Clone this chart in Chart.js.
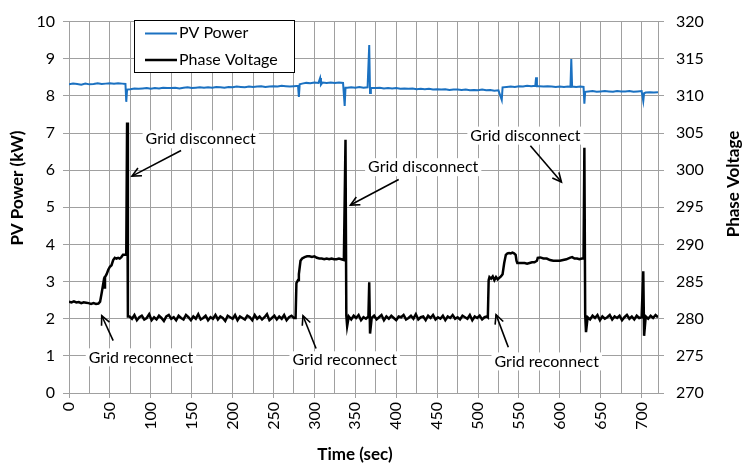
<!DOCTYPE html>
<html>
<head>
<meta charset="utf-8">
<script src="https://cdn.jsdelivr.net/npm/chart.js@4.4.1/dist/chart.umd.min.js"></script>
<style>
  body { margin: 0; background: #fff; }
  #grafico { display: block; }
</style>
</head>
<body>
<canvas id="grafico" width="742" height="468"></canvas>
<script>
// PV Power (kW, eixo esquerdo)
var pvTime = [
  0,5,10,15,20,25,30,35,40,45,50,55,60,65,69,
  70,71,
  75,80,85,90,95,100,105,110,115,120,
  125,130,135,140,145,150,155,160,165,170,
  175,180,185,190,195,200,205,210,215,220,
  225,230,235,240,245,250,255,260,265,270,
  275,280,
  281,282,
  285,290,295,300,305,307,308,310,315,320,325,330,335,
  337,338,
  340,345,350,355,360,365,
  367,368,369,
  375,380,385,390,395,400,405,410,415,420,
  425,430,435,440,445,450,455,460,465,470,
  475,480,485,490,495,500,505,510,515,520,
  525,
  529,530,
  535,540,545,550,555,560,565,570,571,572,575,580,585,590,595,600,605,610,613,614,615,620,625,629,
  630,631,
  635,640,645,650,655,660,665,670,675,680,685,690,695,700,
  702,703,
  705,710,715,720
];
var pvPower = [
  8.31,8.33,8.32,8.30,8.33,8.31,8.32,8.34,8.32,8.33,8.34,8.33,8.34,8.33,8.32,
  7.84,8.17,
  8.18,8.20,8.19,8.20,8.21,8.19,8.21,8.20,8.22,8.21,
  8.21,8.22,8.20,8.22,8.23,8.21,8.22,8.23,8.22,8.23,
  8.22,8.24,8.23,8.22,8.24,8.23,8.25,8.24,8.23,8.25,
  8.24,8.25,8.26,8.24,8.25,8.26,8.25,8.27,8.26,8.25,
  8.26,8.27,
  7.97,8.31,
  8.33,8.35,8.34,8.36,8.35,8.48,8.30,8.36,8.35,8.36,8.35,8.36,8.35,
  7.73,8.22,
  8.22,8.23,8.22,8.24,8.22,8.23,
  9.37,8.08,8.22,
  8.21,8.22,8.20,8.21,8.20,8.21,8.19,8.20,8.19,8.20,
  8.18,8.19,8.18,8.19,8.17,8.18,8.17,8.18,8.16,8.17,
  8.17,8.16,8.17,8.15,8.16,8.15,8.17,8.15,8.16,8.14,
  8.15,
  7.89,8.23,
  8.24,8.25,8.24,8.26,8.25,8.27,8.26,8.27,8.50,8.26,8.26,8.25,8.26,8.25,8.24,8.25,8.24,8.25,8.24,8.99,8.25,8.24,8.25,8.24,
  7.79,8.11,
  8.12,8.13,8.11,8.12,8.13,8.12,8.11,8.13,8.12,8.12,8.13,8.11,8.12,8.13,
  7.86,8.07,
  8.09,8.10,8.09,8.10
];

// Phase Voltage (V, eixo direito)
var voltageTime = [
  0,3,6,9,12,15,18,21,24,27,30,33,36,
  38,40,42,43,44,46,48,50,52,54,56,58,60,62,64,66,68,70,
  71,72,
  74,77,80,83,86,89,92,95,98,101,
  104,107,110,113,116,119,122,125,128,131,
  134,137,140,143,146,149,152,155,158,161,
  164,167,170,173,176,179,182,185,188,191,
  194,197,200,203,206,209,212,215,218,221,
  224,227,230,233,236,239,242,245,248,251,
  254,257,260,263,266,269,272,275,
  277,278,280,281,283,285,288,291,294,297,300,303,306,309,312,315,318,321,324,327,330,333,336,
  338,339,340,
  342,345,348,351,354,357,360,363,366,
  367,368,
  370,373,376,379,382,385,388,391,394,397,
  400,403,406,409,412,415,418,421,424,427,
  430,433,436,439,442,445,448,451,454,457,
  460,463,466,469,472,475,478,481,484,487,
  490,493,496,499,502,505,508,511,
  512,513,514,516,518,520,522,524,526,528,530,532,534,536,538,540,542,544,546,547,548,551,554,557,560,563,566,569,572,573,576,580,584,588,592,596,600,604,608,612,615,618,621,624,627,629,
  630,631,632,
  634,637,640,643,646,649,652,655,658,661,
  664,667,670,673,676,679,682,685,688,691,
  694,697,700,
  702,703,
  705,708,711,714,717,720
];
var phaseVoltage = [
  282.3,282.2,282.35,282.2,282.25,282.1,282.2,282.15,282.1,282.0,282.1,282.0,282.05,
  282.3,283.5,284.8,284.2,285.6,286.0,286.6,287.0,287.2,287.9,288.2,288.1,288.2,288.1,288.3,288.6,288.6,288.6,
  306.4,280.3,
  280.3,280.0,280.5,279.8,280.2,280.4,279.9,280.1,280.6,279.8,
  280.2,279.9,280.4,280.1,279.7,280.3,280.5,280.0,280.2,279.8,
  280.4,280.1,279.9,280.5,280.2,279.8,280.3,280.0,280.6,279.9,
  280.1,280.4,279.8,280.2,280.0,280.5,279.9,280.3,280.1,279.7,
  280.4,280.2,280.0,280.5,279.8,280.3,280.1,279.9,280.4,280.2,
  279.8,280.5,280.0,280.3,279.9,280.2,280.6,279.8,280.1,280.4,
  279.9,280.3,280.0,280.5,279.8,280.2,280.4,280.1,
  280.1,284.8,285.2,286.0,287.8,288.1,288.3,288.4,288.4,288.3,288.4,288.2,288.1,288.1,288.0,288.1,288.0,288.1,288.0,288.0,288.1,288.0,287.9,
  304.1,280.4,279.0,
  280.3,279.9,280.4,280.1,280.5,279.8,280.2,280.0,280.3,
  284.9,278.0,
  280.1,280.4,279.9,280.2,280.5,279.8,280.3,280.0,280.4,280.1,
  279.8,280.3,280.2,280.5,279.9,280.1,280.4,280.0,280.6,279.9,
  280.2,280.3,279.8,280.4,280.1,280.5,279.9,280.2,280.0,280.4,
  279.8,280.3,280.1,280.5,280.0,280.2,279.9,280.4,280.2,280.0,
  280.5,279.8,280.3,280.1,280.4,279.9,280.2,280.3,
  280.2,285.2,285.6,285.4,285.7,285.2,285.6,285.3,285.5,285.7,286.0,287.5,288.6,288.8,288.85,288.8,288.9,288.8,288.6,287.8,287.5,287.5,287.5,287.5,287.4,287.5,287.6,287.6,287.8,288.2,288.25,288.1,288.1,287.9,287.8,287.8,287.8,287.9,288.0,288.2,288.3,288.1,288.1,288.0,288.1,288.1,
  303.0,280.5,278.2,
  280.2,279.9,280.4,280.1,280.5,279.8,280.3,280.0,280.2,280.5,
  279.9,280.3,280.1,280.4,279.8,280.2,280.5,280.0,280.3,279.9,
  280.4,280.1,280.2,
  286.4,277.7,
  280.3,280.0,280.4,280.1,280.5,280.2
];

// anotações: texto em (x, y) e seta da cauda até a ponta, em segundos e kW
var anotacoes = [
  { texto: "Grid disconnect", x: 161, y: 6.83, cauda: [137, 6.53], ponta: [77, 5.84] },
  { texto: "Grid disconnect", x: 433, y: 6.08, cauda: [403, 5.75], ponta: [344, 5.06] },
  { texto: "Grid disconnect", x: 558, y: 6.93, cauda: [564, 6.66], ponta: [602, 5.68] },
  { texto: "Grid reconnect", x: 88, y: 0.96, cauda: [54, 1.41], ponta: [40, 2.08] },
  { texto: "Grid reconnect", x: 337, y: 0.88, cauda: [302, 1.2], ponta: [286, 2.08] },
  { texto: "Grid reconnect", x: 584, y: 0.85, cauda: [537, 1.23], ponta: [522, 2.11] }
];

var corGrade = "#a0a0a0";
var azul = "#1b71c1";
Chart.defaults.font.family = "Lato";
Chart.defaults.color = "#000";

function pontos(tempos, valores) {
  return tempos.map((t, i) => ({ x: t, y: valores[i] }));
}

function seta(ctx, x1, y1, x2, y2) {
  ctx.beginPath();
  ctx.moveTo(x1, y1);
  ctx.lineTo(x2, y2);
  ctx.stroke();
  var ang = Math.atan2(y2 - y1, x2 - x1);
  var tam = 10;
  ctx.beginPath();
  ctx.moveTo(x2 - tam * Math.cos(ang - 0.45), y2 - tam * Math.sin(ang - 0.45));
  ctx.lineTo(x2, y2);
  ctx.lineTo(x2 - tam * Math.cos(ang + 0.45), y2 - tam * Math.sin(ang + 0.45));
  ctx.stroke();
}

const extras = {
  id: "extras",
  afterDraw(chart) {
    const ctx = chart.ctx;
    const sx = chart.scales.x;
    const sy = chart.scales.yPower;
    ctx.save();

    // títulos dos eixos (os verticais lidos de baixo para cima)
    ctx.fillStyle = "#000";
    ctx.font = "bold 17px Lato";
    ctx.textAlign = "center";
    ctx.textBaseline = "middle";
    ctx.fillText("Time (sec)", 355, 455);
    ctx.save();
    ctx.translate(18, 188);
    ctx.rotate(-Math.PI / 2);
    ctx.fillText("PV Power (kW)", 0, 0);
    ctx.restore();
    ctx.save();
    ctx.translate(734, 184);
    ctx.rotate(-Math.PI / 2);
    ctx.fillText("Phase Voltage", 0, 0);
    ctx.restore();

    // anotações com fundo branco e setas
    ctx.font = "16px Lato";
    ctx.strokeStyle = "#000";
    ctx.lineWidth = 1.6;
    anotacoes.forEach((a) => {
      var px = sx.getPixelForValue(a.x);
      var py = sy.getPixelForValue(a.y);
      var w = ctx.measureText(a.texto).width;
      ctx.fillStyle = "#fff";
      ctx.fillRect(px - w / 2 - 3, py - 9, w + 6, 18);
      ctx.fillStyle = "#000";
      ctx.fillText(a.texto, px, py);
      seta(ctx,
        sx.getPixelForValue(a.cauda[0]), sy.getPixelForValue(a.cauda[1]),
        sx.getPixelForValue(a.ponta[0]), sy.getPixelForValue(a.ponta[1]));
    });

    // legenda dentro da área do gráfico
    var lx = 134.5, ly = 20.5;
    ctx.fillStyle = "#fff";
    ctx.fillRect(lx, ly, 160, 52);
    ctx.lineWidth = 1;
    ctx.strokeStyle = "#000";
    ctx.strokeRect(lx, ly, 160, 52);
    ctx.lineWidth = 2;
    ctx.strokeStyle = azul;
    ctx.beginPath(); ctx.moveTo(145, 33.5); ctx.lineTo(177, 33.5); ctx.stroke();
    ctx.lineWidth = 2.5;
    ctx.strokeStyle = "#000";
    ctx.beginPath(); ctx.moveTo(145, 60); ctx.lineTo(177, 60); ctx.stroke();
    ctx.fillStyle = "#000";
    ctx.textAlign = "left";
    ctx.fillText("PV Power", 179, 33);
    ctx.fillText("Phase Voltage", 179, 60);

    ctx.restore();
  }
};

const chartVoltagem = new Chart(document.getElementById("grafico"), {
  type: "line",
  data: {
    datasets: [
      {
        label: "PV Power",
        data: pontos(pvTime, pvPower),
        yAxisID: "yPower",
        borderColor: azul,
        borderWidth: 2,
        pointRadius: 0,
        tension: 0
      },
      {
        label: "Phase Voltage",
        data: pontos(voltageTime, phaseVoltage),
        yAxisID: "yVoltage",
        borderColor: "#000",
        borderWidth: 2.5,
        pointRadius: 0,
        tension: 0
      }
    ]
  },
  options: {
    responsive: false,
    animation: false,
    devicePixelRatio: 1,
    layout: { padding: { top: 18, left: 0, right: 0, bottom: 0 } },
    plugins: {
      legend: { display: false },
      tooltip: { enabled: false }
    },
    scales: {
      x: {
        type: "linear",
        min: 0,
        max: 720,
        afterFit: (s) => { s.height = 75; },
        ticks: {
          stepSize: 25,
          includeBounds: false,
          autoSkip: false,
          minRotation: 90,
          maxRotation: 90,
          padding: 4,
          font: { size: 16 },
          callback: (v) => (v % 50 === 0 ? String(v) : "")
        },
        grid: {
          color: corGrade,
          tickLength: 5,
          tickColor: (c) => (c.tick && c.tick.value % 50 === 0 ? corGrade : "rgba(0,0,0,0)")
        },
        border: { color: corGrade }
      },
      yPower: {
        position: "left",
        min: 0,
        max: 10,
        afterFit: (s) => { s.width = 69; },
        ticks: { stepSize: 1, padding: 8, font: { size: 16 } },
        grid: { color: corGrade, tickLength: 6 },
        border: { color: corGrade }
      },
      yVoltage: {
        position: "right",
        min: 270,
        max: 320,
        afterFit: (s) => { s.width = 84; },
        ticks: { stepSize: 5, padding: 12, font: { size: 16 } },
        grid: { drawOnChartArea: false, color: corGrade, tickLength: 6 },
        border: { color: corGrade }
      }
    }
  },
  plugins: [extras]
});
</script>
</body>
</html>
